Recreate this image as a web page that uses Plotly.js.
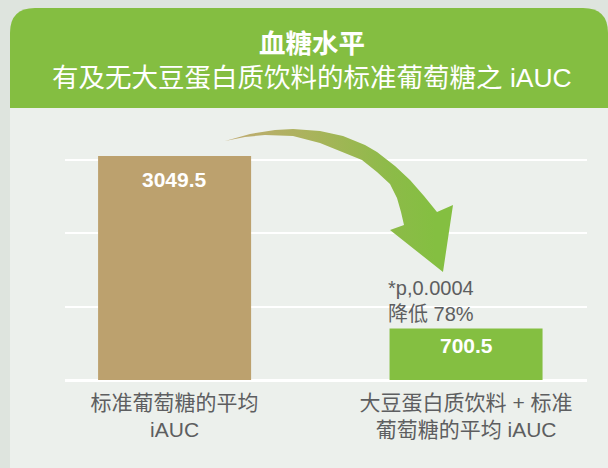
<!DOCTYPE html>
<html><head><meta charset="utf-8">
<script src="https://cdn.plot.ly/plotly-3.0.1.min.js"></script>
<style>html,body{margin:0;padding:0;background:#dee4de}</style>
</head><body><div id="chart" style="width:608px;height:468px"></div>
<script>
// ---- data ----
const categories = ["标准葡萄糖的平均<br>iAUC", "大豆蛋白质饮料 + 标准<br>葡萄糖的平均 iAUC"];
const values = [3049.5, 700.5];
const valueLabels = ["3049.5", "700.5"];
const barColors = ["#bca16e", "#84bf41"];
const pValueText = "*p,0.0004";
const reductionText = "降低 78%";
const titleLine1 = "血糖水平";
const titleLine2 = "有及无大豆蛋白质饮料的标准葡萄糖之 iAUC";

// ---- layout geometry (pixels) ----
const W = 608, H = 468, L = 65, R = 21, T = 123, B = 88;
const pw = W - L - R, ph = H - T - B;
const px = x => (x - L) / pw;
const py = y => (H - B - y) / ph;
const FONT = "Liberation Sans, Noto Sans CJK SC, sans-serif";

// decorative arrow outline (pixel space of overlay axes)
const arrowX = [225,250,275,293,320,343,365,377,395,410,424,437, 453,443,390, 404,401,397,390,377,362,343,320,293,265,245,225];
const arrowY = [141,134,130,129,131,136,145,152,166,180,196,212, 205,272,230, 225,212,198,184,172,160,152,143,136,135,137,141];

// rounded header path
const r = 25, hx0 = 10, hx1 = 608, hy0 = 8, hy1 = 108;
const headerPath = `M ${px(hx0)} ${py(hy1)} L ${px(hx0)} ${py(hy0 + r)} Q ${px(hx0)} ${py(hy0)} ${px(hx0 + r)} ${py(hy0)} ` +
  `L ${px(hx1 - r)} ${py(hy0)} Q ${px(hx1)} ${py(hy0)} ${px(hx1)} ${py(hy0 + r)} L ${px(hx1)} ${py(hy1)} Z`;

const traces = [
  {
    type: "bar", x: categories, y: values,
    marker: {color: barColors}, hoverinfo: "skip", showlegend: false
  },
  {
    type: "scatter", x: arrowX, y: arrowY, xaxis: "x2", yaxis: "y2",
    mode: "lines", line: {width: 0, color: "rgba(0,0,0,0)"},
    fill: "toself", fillcolor: "#84bf41",
    fillgradient: {type: "horizontal", start: 225, stop: 435,
      colorscale: [[0, "#c2ab74"], [0.4, "#aab35c"], [0.8, "#8cbb48"], [1, "#84bf41"]]},
    hoverinfo: "skip", showlegend: false
  }
];

const layout = {
  width: W, height: H,
  margin: {l: L, r: R, t: T, b: B},
  paper_bgcolor: "#dee4de", plot_bgcolor: "rgba(0,0,0,0)",
  bargap: 0.475,
  font: {family: FONT, color: "#5d5e60"},
  title: {
    text: "<b>" + titleLine1 + "</b><br>" + titleLine2,
    font: {family: FONT, size: 26.5, color: "#ffffff"},
    xref: "container", x: 0.513, xanchor: "center",
    yref: "container", y: 1 - 52.5 / H, yanchor: "middle"
  },
  xaxis: {
    type: "category", range: [-0.376, 1.415], showgrid: false, zeroline: false,
    showline: false, ticks: "", tickfont: {family: FONT, size: 21, color: "#5d5e60"},
    ticklabelstandoff: 8, fixedrange: true
  },
  yaxis: {
    range: [0, 3500], dtick: 1000, showgrid: true, gridcolor: "#ffffff", gridwidth: 2,
    zeroline: true, zerolinecolor: "#ffffff", zerolinewidth: 3,
    showticklabels: false, ticks: "", showline: false, fixedrange: true
  },
  xaxis2: {overlaying: "x", anchor: "y2", range: [L, W - R], visible: false, fixedrange: true},
  yaxis2: {overlaying: "y", anchor: "x2", range: [H - B, T], visible: false, fixedrange: true},
  shapes: [
    {type: "rect", xref: "paper", yref: "paper", x0: px(hx0), x1: px(W + 5), y0: py(hy1), y1: py(H + 5),
     fillcolor: "#ecf0ec", line: {width: 0}, layer: "below"},
    {type: "path", xref: "paper", yref: "paper", path: headerPath,
     fillcolor: "#84be41", line: {width: 0}, layer: "below"}
  ],
  annotations: [
    {x: categories[0], y: values[0], xref: "x", yref: "y", text: "<b>" + valueLabels[0] + "</b>",
     showarrow: false, yanchor: "middle", yshift: -23, font: {family: FONT, size: 21, color: "#ffffff"}},
    {x: categories[1], y: values[1], xref: "x", yref: "y", text: "<b>" + valueLabels[1] + "</b>",
     showarrow: false, yanchor: "middle", yshift: -17, font: {family: FONT, size: 21, color: "#ffffff"}},
    {x: px(386), y: py(301), xref: "paper", yref: "paper", xanchor: "left", yanchor: "middle", align: "left",
     text: pValueText + "<br>" + reductionText, showarrow: false,
     font: {family: FONT, size: 20, color: "#5d5e60"}}
  ]
};

Plotly.newPlot("chart", traces, layout, {displayModeBar: false, staticPlot: true});
</script></body></html>
